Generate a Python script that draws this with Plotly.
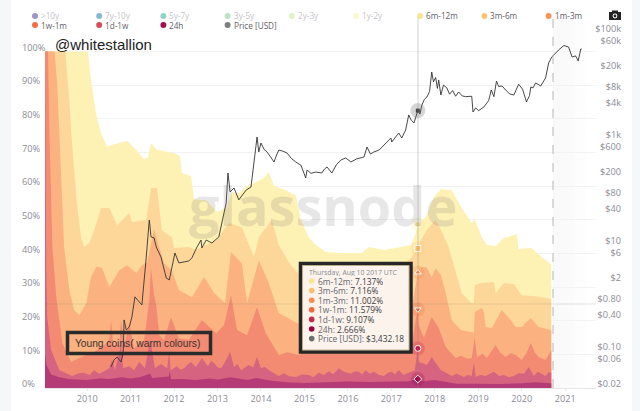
import plotly.graph_objects as go

W, H = 640, 411
FONT = "Open Sans"

year_ticks = list(range(2010, 2022))
pct_ticks = list(range(0, 101, 10))
pct_labels = [f"{v}%" for v in pct_ticks]
price_ticks = [0.02, 0.06, 0.1, 0.4, 0.8, 2, 6, 10, 40, 80, 200, 600, 1000, 4000, 8000, 20000, 60000, 100000]
price_labels = ["$0.02", "$0.06", "$0.10", "$0.40", "$0.80", "$2", "$6", "$10", "$40", "$80", "$200", "$600",
                "$1k", "$4k", "$8k", "$20k", "$60k", "$100k"]

# cumulative share of supply at the top of each band (percent)
x_6m12m = [2009.0,2010.02,2010.08,2010.2,2010.32,2010.46,2010.55,2010.74,2010.92,2011.13,2011.31,2011.4,2011.47,2011.61,2011.82,2012.0,2012.14,2012.18,2012.39,2012.46,2012.74,2012.99,2013.2,2013.33,2013.49,2013.68,2013.89,2014.07,2014.18,2014.3,2014.57,2014.8,2014.92,2015.1,2015.26,2015.49,2015.86,2016.32,2016.48,2016.83,2017.22,2017.45,2017.56,2017.61,2017.79,2017.98,2018.14,2018.39,2018.62,2018.85,2018.92,2019.08,2019.2,2019.4,2019.59,2019.89,2019.93,2020.23,2020.46,2020.68]
y_6m12m = [100,100,92.4,81.7,75.7,71.6,72.2,72.8,73.4,70.7,68,68.6,72.8,70.7,70.1,69.8,68.9,63.9,63,56.1,55.8,52.3,53.5,58.2,57.9,60,61.2,62.4,64.2,60,58.8,57.3,49.9,44.8,42.5,40.4,40.1,40.1,41.9,41,41.9,42.5,46,48.6,50.8,56.7,59.1,58.8,53.5,49,50.2,44.8,42.5,42.2,44.6,45.7,41.3,41.6,38.9,36.8]

x_3m6m = [2009.0,2009.5,2009.59,2009.63,2009.75,2009.86,2009.93,2010.05,2010.16,2010.32,2010.51,2010.69,2010.97,2011.03,2011.36,2011.47,2011.61,2011.72,2011.95,2012.0,2012.34,2012.5,2012.97,2013.26,2013.56,2013.84,2013.95,2014.25,2014.41,2014.64,2014.83,2015.33,2016.25,2017.17,2017.45,2017.61,2017.68,2017.82,2018.02,2018.14,2018.32,2018.48,2018.62,2018.85,2018.9,2018.92,2019.06,2019.36,2019.4,2019.59,2019.82,2020.0,2020.32,2020.68]
y_3m6m = [100,100,85.5,76.6,56.7,44.8,41.9,43.1,46.9,53.5,53.5,48.4,52,49.3,49.9,59.4,59.4,46.9,44.8,41.6,41.9,41,44,49,47.8,38.9,44.8,49.9,42.5,37.4,34.5,30.6,33.6,35,38.6,41.47,44,47,49.9,47,41.9,35,28.2,25.2,25.2,30.6,31.2,31.5,28.2,31.2,30.9,27.6,27.3,26.4]

x_1m3m = [2009.0,2009.25,2009.31,2009.36,2009.43,2009.47,2009.59,2009.7,2009.82,2009.98,2010.09,2010.21,2010.34,2010.51,2010.74,2010.92,2011.13,2011.26,2011.38,2011.54,2011.66,2011.77,2011.95,2012.11,2012.41,2012.69,2012.92,2013.17,2013.31,2013.56,2013.68,2013.95,2014.18,2014.41,2014.83,2015.33,2016.25,2017.17,2017.5,2017.61,2017.65,2017.81,2017.93,2018.02,2018.14,2018.25,2018.39,2018.6,2018.85,2018.9,2018.92,2019.08,2019.13,2019.17,2019.31,2019.54,2019.75,2019.86,2020.0,2020.21,2020.39,2020.68]
y_1m3m = [100,100,90.6,76.6,54.4,41.9,29.1,23.2,21.7,25.2,33,36,35.7,30,35,36.5,34.2,36.5,37.4,47.2,41.9,37.1,35,29.1,27,33,28.2,25.2,40.4,37.1,25.2,38,31.2,22.3,19.3,17.2,17.2,20.2,26,34.35,35.9,35.9,33,35.6,33.6,28.2,20.2,17.2,16.6,16.6,22.6,23.8,22.6,18.1,17.8,23.2,20.2,18.1,18.1,20.8,18.1,17.2]

x_1w1m = [2009.0,2009.1,2009.13,2009.17,2009.2,2009.29,2009.43,2009.63,2009.82,2010.16,2010.39,2010.51,2010.55,2010.6,2010.74,2010.78,2010.85,2010.97,2011.08,2011.31,2011.43,2011.47,2011.54,2011.59,2011.66,2011.77,2011.93,2012.11,2012.34,2012.64,2012.97,2013.15,2013.31,2013.45,2013.68,2013.91,2014.11,2014.41,2014.6,2014.87,2015.1,2015.33,2015.68,2016.25,2016.71,2017.17,2017.49,2017.56,2017.61,2017.63,2017.75,2017.93,2018.09,2018.25,2018.48,2018.6,2018.75,2018.85,2018.92,2018.97,2019.1,2019.2,2019.3,2019.4,2019.5,2019.63,2019.75,2019.86,2020.0,2020.1,2020.21,2020.3,2020.39,2020.55,2020.68]
y_1w1m = [100,100,76.6,54.4,41.9,27,13.4,7.7,8.9,10.7,12.8,14.3,20.2,12.8,12.8,20.2,12.8,19.3,11.9,14.3,26.1,35.6,27.6,24.6,15.7,14.3,21.1,14.8,14.3,20.2,16.3,18.7,27.6,17.2,15.7,24.1,16.3,9.8,10.6,9.8,11.2,10.7,11.3,11.9,11.3,12.5,14.3,20.2,23.35,18.7,14.9,21.1,17.8,12.2,8.9,9.6,8.7,8.9,15.1,9.2,10.2,8.9,11,12.8,10.6,9.2,10.4,9.8,8.3,10.2,13.4,10.6,9.2,8.3,11.3]

x_1d1w = [2009.0,2009.03,2009.06,2009.08,2009.17,2009.36,2009.66,2009.8,2009.93,2010.05,2010.16,2010.28,2010.39,2010.51,2010.57,2010.64,2010.78,2010.83,2010.97,2011.08,2011.2,2011.33,2011.45,2011.49,2011.56,2011.7,2011.84,2011.89,2011.92,2012.07,2012.15,2012.23,2012.31,2012.39,2012.5,2012.57,2012.64,2012.78,2012.85,2012.92,2013.0,2013.08,2013.15,2013.22,2013.29,2013.38,2013.46,2013.54,2013.63,2013.72,2013.82,2013.91,2014.0,2014.09,2014.18,2014.3,2014.41,2014.52,2014.66,2014.8,2014.95,2015.1,2015.2,2015.33,2015.45,2015.56,2015.66,2015.79,2015.91,2016.07,2016.16,2016.25,2016.33,2016.41,2016.5,2016.6,2016.72,2016.83,2016.92,2017.01,2017.08,2017.17,2017.28,2017.4,2017.54,2017.61,2017.63,2017.7,2017.82,2017.93,2018.05,2018.14,2018.25,2018.39,2018.5,2018.67,2018.76,2018.85,2018.9,2018.94,2019.05,2019.17,2019.27,2019.36,2019.48,2019.59,2019.7,2019.82,2019.93,2020.05,2020.16,2020.28,2020.37,2020.46,2020.55,2020.62,2020.68]
y_1d1w = [100,100,34.2,21.1,11.3,5.3,3.6,4.4,4.5,3.9,5.3,4.2,5,5.9,8.3,5.3,12.8,5.9,6.5,5.3,7.7,5.9,14.3,10.7,5.9,7.1,5.9,10.7,5.3,6.5,5.4,5.9,7,7.7,6.2,7.5,8.9,6.5,8,7.4,6.2,5.9,7.2,8.9,10.7,6.2,7.1,5.3,6,6.8,6.1,9.2,5.9,6.3,5.3,4.5,3.6,4.4,3.5,3.3,4,3.9,3.2,4.5,3.9,5,4.1,5.9,4.8,4.2,5,4.8,4,5.3,4.2,4.8,3.9,3.6,4.5,4.8,4.1,5.3,3.9,4.5,5.3,11.77,7.7,7.4,6.8,9.2,6.8,5.3,4.6,3.6,4.2,3.3,3.9,3.6,7.4,3.3,3.9,3.6,4.2,4.8,3.6,3.9,3.2,3.6,4.4,4.2,6.2,3.6,4.8,4.2,3.6,4.7,4.5]

x_24h = [2009.0,2009.06,2009.17,2009.36,2009.6,2010.0,2010.3,2010.5,2010.8,2011.0,2011.2,2011.45,2011.5,2011.7,2011.88,2011.9,2011.93,2012.2,2012.5,2012.8,2013.0,2013.3,2013.5,2013.7,2013.9,2014.2,2014.6,2015.0,2015.5,2016.0,2016.5,2017.0,2017.4,2017.61,2017.7,2018.0,2018.5,2019.0,2019.5,2020.0,2020.3,2020.68]
y_24h = [14,7,4,3.2,2.6,2.4,2.9,2.7,3.2,2.8,3.2,4.2,3,3.1,3.4,5,2.6,2.7,2.4,2.8,2.5,3.2,2.7,2.4,3,2.2,1.7,1.5,1.7,1.9,1.8,1.9,2,2.67,1.9,2.4,1.3,1.3,1.2,1.4,1.7,1.4]

x_price = [2010.55,2010.62,2010.69,2010.78,2010.83,2010.85,2010.9,2010.97,2011.03,2011.1,2011.2,2011.26,2011.36,2011.43,2011.47,2011.54,2011.59,2011.7,2011.82,2011.89,2012.02,2012.11,2012.34,2012.41,2012.53,2012.62,2012.64,2012.74,2012.87,2013.03,2013.2,2013.24,2013.29,2013.38,2013.49,2013.66,2013.77,2013.84,2013.91,2013.95,2014.0,2014.07,2014.14,2014.22,2014.3,2014.36,2014.41,2014.5,2014.6,2014.7,2014.8,2014.92,2015.03,2015.06,2015.15,2015.26,2015.4,2015.46,2015.52,2015.63,2015.74,2015.84,2015.95,2016.07,2016.2,2016.37,2016.44,2016.52,2016.6,2016.72,2016.83,2016.92,2016.99,2017.01,2017.17,2017.24,2017.33,2017.4,2017.46,2017.52,2017.56,2017.61,2017.66,2017.7,2017.76,2017.82,2017.88,2017.93,2017.97,2018.02,2018.06,2018.09,2018.14,2018.2,2018.28,2018.34,2018.41,2018.48,2018.55,2018.63,2018.71,2018.85,2018.88,2018.94,2019.01,2019.13,2019.24,2019.3,2019.36,2019.42,2019.47,2019.55,2019.63,2019.72,2019.82,2019.93,2020.02,2020.11,2020.18,2020.21,2020.26,2020.32,2020.44,2020.55,2020.62,2020.69,2020.85,2020.97,2021.08,2021.16,2021.24,2021.3,2021.36,2021.38,2021.46,2021.54,2021.61,2021.68]
y_price = [0.05,0.068,0.077,0.062,0.09,0.385,0.249,0.284,0.438,1.05,0.84,0.74,5.9,29.6,14.2,13.6,9.2,5.9,2.38,2.19,7.06,4.58,4.99,5.7,9.2,12.4,8.8,12.4,10.9,14.2,62,228,100,119,71,109,124,352,1091,569,841,640,569,460,368,500,619,590,544,430,368,320,184,260,225,238,228,270,296,228,330,402,438,368,420,457,706,520,569,620,771,880,1045,877,1297,1045,1479,2838,2250,2004,2650,3432.18,2950,4300,5600,6200,7900,18360,12000,14500,9000,13000,6760,10400,9160,7000,8200,6400,7700,6500,6300,6400,3230,3850,3430,4020,5300,8410,6300,12400,9800,10000,8410,7100,6760,10800,8700,4990,6600,9570,9200,11400,10000,14200,27200,35000,47800,58000,54400,35200,37000,29600,49900,49900]

bands = [
    ("6m-12m", x_6m12m, y_6m12m, "#fef1b4"),
    ("3m-6m", x_3m6m, y_3m6m, "#fdd799"),
    ("1m-3m", x_1m3m, y_1m3m, "#fbb280"),
    ("1w-1m", x_1w1m, y_1w1m, "#f28b72"),
    ("1d-1w", x_1d1w, y_1d1w, "#d6637f"),
    ("24h", x_24h, y_24h, "#b53b77"),
]

legend_names = [">10y", "7y-10y", "5y-7y", "3y-5y", "2y-3y", "1y-2y", "6m-12m", "3m-6m", "1m-3m",
                "1w-1m", "1d-1w", "24h", "Price [USD]"]
legend_colors = ["#5e4fa2", "#3288bd", "#47b5a0", "#8ed1a0", "#d0ea9c", "#f1f6ab", "#fbe38e", "#fdc06f", "#f98e4d",
                 "#f4663f", "#d9404f", "#9e0142", "#777777"]
legend_hidden = [True] * 6 + [False] * 7

hover_date = 2017.61
hover_symbols = ["circle", "square", "triangle-up", "triangle-down", "circle", "diamond"]
hover_colors = ["#fbe38e", "#fdc06f", "#f98e4d", "#f4663f", "#c9184f", "#9e0142"]
hover_tops = [48.6, 41.47, 34.35, 23.35, 11.77, 2.67]
tip_title = "Thursday, Aug 10 2017 UTC"
tip_names = ["6m-12m", "3m-6m", "1m-3m", "1w-1m", "1d-1w", "24h", "Price [USD]"]
tip_values = ["7.137%", "7.116%", "11.002%", "11.579%", "9.107%", "2.666%", "$3,432.18"]
tip_colors = ["#fbe38e", "#fdc06f", "#f98e4d", "#f4663f", "#c9284f", "#9e0142", "#6e6e6e"]


def px(x):
    return x / W


def py(y):
    return 1 - y / H


fig = go.Figure()
for name, xs, ys, color in bands:
    fig.add_trace(go.Scatter(x=xs, y=ys, name=name, mode="lines", line=dict(width=0, color=color),
                             fill="tozeroy", fillcolor=color, showlegend=False, hoverinfo="skip"))
fig.add_trace(go.Scatter(x=x_price, y=y_price, name="Price [USD]", yaxis="y2", mode="lines",
                         line=dict(color="#333333", width=0.9), showlegend=False))
# hover markers
fig.add_trace(go.Scatter(x=[hover_date] * 6, y=hover_tops, mode="markers", showlegend=False,
                         marker=dict(size=14, color=hover_colors, opacity=0.22)))
fig.add_trace(go.Scatter(x=[hover_date] * 6, y=hover_tops, mode="markers", showlegend=False,
                         marker=dict(size=6, color=hover_colors, symbol=hover_symbols,
                                     line=dict(color="white", width=1))))
fig.add_trace(go.Scatter(x=[hover_date], y=[3432.18], yaxis="y2", mode="markers", showlegend=False,
                         marker=dict(size=15, color="rgba(90,90,90,0.25)")))
fig.add_trace(go.Scatter(x=[hover_date], y=[3432.18], yaxis="y2", mode="markers", showlegend=False,
                         marker=dict(size=4, color="#444444", symbol="square")))

shapes = []
annotations = []


def rect(x0, y0, x1, y1, fill=None, line=None, lw=0, layer="above"):
    shapes.append(dict(type="rect", xref="paper", yref="paper", x0=px(x0), x1=px(x1), y0=py(y1), y1=py(y0),
                       fillcolor=fill or "rgba(0,0,0,0)", line=dict(color=line or "rgba(0,0,0,0)", width=lw),
                       layer=layer))


def dot(cx, cy, r, color, opacity=1):
    shapes.append(dict(type="circle", xref="paper", yref="paper", x0=px(cx - r), x1=px(cx + r), y0=py(cy + r),
                       y1=py(cy - r), fillcolor=color, opacity=opacity, line=dict(width=0)))


def text(x, y, s, size, color, family=FONT, anchor="left", height=None):
    annotations.append(dict(xref="paper", yref="paper", x=px(x), y=py(y), text=s, showarrow=False, xanchor=anchor,
                            yanchor="middle", align="left", borderpad=0, borderwidth=0, height=height,
                            font=dict(size=size, color=color, family=family)))


# page strips
rect(0, 0, 11, H, fill="#f6f7f9", layer="below")
rect(632, 0, W, H, fill="#f6f7f9", layer="below")
# shaded forecast side
for i, (a, b) in enumerate([(553, 560), (560, 567), (567, 575), (575, 585)]):
    rect(a, 16, b, 388, fill=f"rgba(150,150,150,{0.06 - i * 0.013:.3f})", layer="below")
# crosshair and last-data marker
shapes.append(dict(type="line", xref="paper", yref="paper", x0=px(418), x1=px(418), y0=py(388), y1=py(16),
                   line=dict(color="rgba(130,130,130,0.3)", width=1.2)))
shapes.append(dict(type="line", xref="paper", yref="paper", x0=px(45), x1=px(596), y0=py(304), y1=py(304),
                   line=dict(color="rgba(90,90,90,0.16)", width=1)))
shapes.append(dict(type="line", xref="paper", yref="paper", x0=px(553), x1=px(553), y0=py(388), y1=py(16),
                   line=dict(color="#b5b5b5", width=1, dash="dash")))

# legend
for i, (n, c, hid) in enumerate(zip(legend_names, legend_colors, legend_hidden)):
    col = i if i < 9 else i - 9
    row = 0 if i < 9 else 1
    cx = 35 + col * 64.2
    cy = 16 if row == 0 else 25
    dot(cx, cy, 3, c, 0.6 if hid else 0.95)
    text(cx + 6, cy, n, 8.2, "#c4c4c8" if hid else "#5f6068")

# tooltip
rect(300.5, 263.5, 411, 352, fill="#fbf3ec", line="#262626", lw=3.5)
rect(302.5, 265.5, 409, 350, line="#b7a77e", lw=0.8)
text(309, 271.5, tip_title, 6.9, "#8a8a92", height=8)
for i, (n, v, c) in enumerate(zip(tip_names, tip_values, tip_colors)):
    yy = 281 + i * 9.6
    dot(311.7, yy, 2.8, c)
    text(318, yy, f"{n}: <span style='color:#3c3c44'>{v}</span>", 8.4, "#66666e", height=9)

# notes
rect(67.5, 332.5, 210.5, 353.5, line="#2b2b2b", lw=3.5)
text(75, 343, "Young coins( warm colours)", 10.2, "#3a3030", family="Liberation Sans")
text(55, 45, "@whitestallion", 15, "#222222", family="Liberation Sans")
# watermark
text(323, 205, "<b>glassnode</b>", 54, "rgba(110,110,110,0.17)", family=FONT, anchor="center")

# camera icon
rect(609, 12, 621, 20, fill="#222222")
rect(612, 10.5, 618, 13, fill="#222222")
dot(615, 16, 2.4, "#ffffff")
dot(615, 16, 1.4, "#222222")

PCT_SCALE = 3.365    # pixels per percentage point
LOG_SCALE = 52.99    # pixels per price decade
PAD = 6              # pixels of plot below the baseline so the 0% and $0.02 labels stay drawn
TOP = 22             # pixel row of the top of the plot, high enough to keep the $100k label

fig.update_layout(
    width=W, height=H, margin=dict(l=0, r=0, t=0, b=0), paper_bgcolor="white", plot_bgcolor="rgba(0,0,0,0)",
    showlegend=False, shapes=shapes, annotations=annotations, hovermode=False,
    font=dict(family=FONT, size=9, color="#8c8c96"),
    xaxis=dict(domain=[px(45), px(596)], range=[2009.03, 2021.71], tickmode="array", tickvals=year_ticks,
               ticktext=[str(v) for v in year_ticks], showgrid=False, zeroline=False, showline=True,
               anchor="free", position=py(388),
               linecolor="#e6e6ea", linewidth=1, ticks="outside", ticklen=2, tickcolor="#e6e6ea",
               tickfont=dict(size=9.2, color="#8c8c96")),
    yaxis=dict(domain=[py(388 + PAD), py(TOP)], range=[-PAD / PCT_SCALE, (388 - TOP) / PCT_SCALE], anchor="free",
               position=px(18), side="left", ticklabelposition="inside", tickmode="array", tickvals=pct_ticks,
               ticktext=pct_labels, showgrid=True, gridcolor="#f2f2f4", gridwidth=1, zeroline=False, showline=False,
               ticklabelshift=-4, tickfont=dict(size=9.2, color="#8c8c96")),
    yaxis2=dict(domain=[py(388 + PAD), py(TOP)], type="log",
                range=[-1.699 - PAD / LOG_SCALE, 5 + (33 - TOP) / LOG_SCALE], overlaying="y",
                anchor="free", position=px(624), side="right", ticklabelposition="inside", tickmode="array",
                tickvals=price_ticks, ticktext=price_labels, showgrid=False, zeroline=False, showline=False,
                ticklabelshift=-4, tickfont=dict(size=9.2, color="#8c8c96")),
)
fig.write_html("out.html", post_script="document.body.style.margin='0';", config={"displayModeBar": False})
